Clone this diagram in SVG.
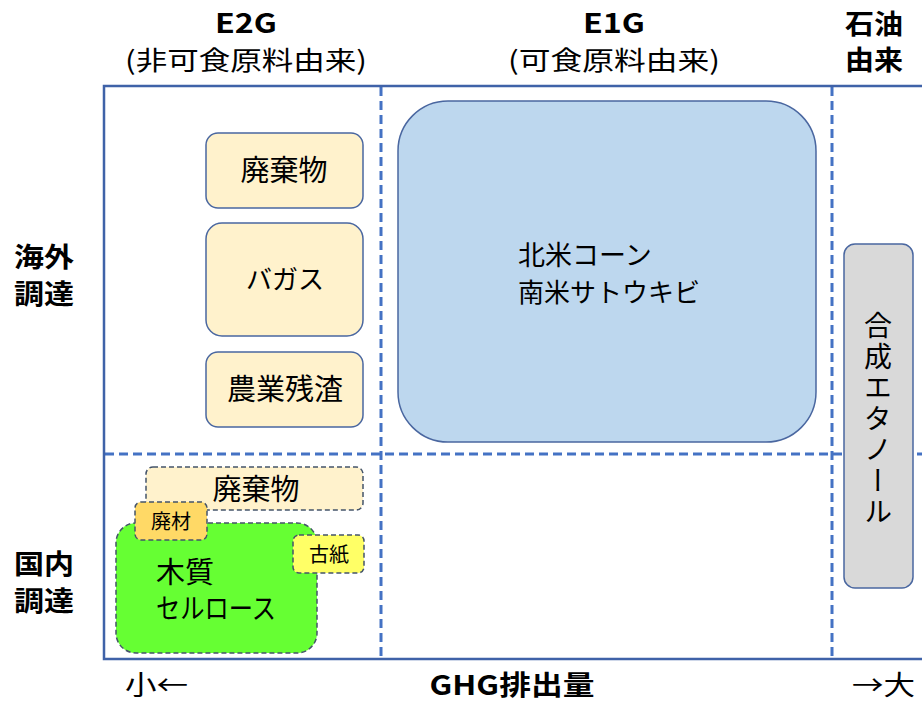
<svg xmlns="http://www.w3.org/2000/svg" width="922" height="705" viewBox="0 0 922 705">
<style>
text{font-family:"Noto Sans CJK JP","Noto Sans",sans-serif;fill:#000}
.b{font-size:27px;font-weight:bold;text-anchor:middle}
.p{font-size:26px;text-anchor:middle}
.k{font-size:29px;text-anchor:middle}
.frame{fill:none;stroke:#3F62A8;stroke-width:2.5}
.div{fill:none;stroke:#4472C4;stroke-width:3;stroke-dasharray:9,5}
.box{fill:#FFF2CC;stroke:#4A67A0;stroke-width:1.5}
.dbox{stroke:#44546A;stroke-width:1.5;stroke-dasharray:5,3}
</style>
<g id="connectors">
<line class="div" x1="381" y1="87" x2="381" y2="658"/>
<line class="div" x1="832" y1="87" x2="832" y2="658"/>
<line class="div" x1="105" y1="454" x2="922" y2="454"/>
<polyline class="frame" points="922,86 104,86 104,659 922,659"/>
</g>
<g id="headers">
<text class="b" x="246" y="33" textLength="62" lengthAdjust="spacingAndGlyphs">E2G</text>
<text class="p" x="246" y="70" textLength="242" lengthAdjust="spacingAndGlyphs">(非可食原料由来)</text>
<text class="b" x="614" y="33" textLength="62" lengthAdjust="spacingAndGlyphs">E1G</text>
<text class="p" x="614" y="70" textLength="212" lengthAdjust="spacingAndGlyphs">(可食原料由来)</text>
<text class="b" x="874" y="34" textLength="58" lengthAdjust="spacingAndGlyphs">石油</text>
<text class="b" x="874" y="70" textLength="58" lengthAdjust="spacingAndGlyphs">由来</text>
<text class="b" x="44" y="267" textLength="60" lengthAdjust="spacingAndGlyphs">海外</text>
<text class="b" x="44" y="304" textLength="60" lengthAdjust="spacingAndGlyphs">調達</text>
<text class="b" x="44" y="574" textLength="60" lengthAdjust="spacingAndGlyphs">国内</text>
<text class="b" x="44" y="611" textLength="60" lengthAdjust="spacingAndGlyphs">調達</text>
<text x="125" y="695" style="font-size:27px" textLength="63" lengthAdjust="spacingAndGlyphs">小←</text>
<text class="b" x="512" y="695" textLength="165" lengthAdjust="spacingAndGlyphs">GHG排出量</text>
<text x="852" y="695" style="font-size:27px" textLength="63" lengthAdjust="spacingAndGlyphs">→大</text>
</g>
<g id="n-haikibutsu1">
<rect class="box" x="206" y="133" width="157" height="75" rx="12"/>
<text class="k" x="284" y="181">廃棄物</text>
</g>
<g id="n-bagasse">
<rect class="box" x="206" y="223" width="157" height="113" rx="16"/>
<text x="285" y="289" style="font-size:26px;text-anchor:middle">バガス</text>
</g>
<g id="n-nogyo">
<rect class="box" x="206" y="352" width="157" height="75" rx="12"/>
<text class="k" x="285" y="400">農業残渣</text>
</g>
<g id="n-e1g">
<rect x="398" y="101" width="418" height="341" rx="50" fill="#BDD7EE" stroke="#4A67A0" stroke-width="1.5"/>
<text x="518" y="265" style="font-size:27px">北米コーン</text>
<text x="518" y="302" style="font-size:26px">南米サトウキビ</text>
</g>
<g id="n-gosei">
<rect x="844" y="244" width="69" height="344" rx="11" fill="#D9D9D9" stroke="#4A67A0" stroke-width="1.5"/>
<text x="878" y="420" style="font-size:28px;writing-mode:vertical-rl;text-anchor:middle;letter-spacing:3px">合成エタノール</text>
</g>
<g id="n-haikibutsu2">
<rect class="dbox" x="146" y="467" width="217" height="43" rx="7" fill="#FFF2CC"/>
<text class="k" x="256" y="500">廃棄物</text>
</g>
<g id="n-mokushitsu">
<rect class="dbox" x="116" y="523" width="201" height="130" rx="20" fill="#66FF33"/>
<text x="156" y="583" style="font-size:29px">木質</text>
<text x="156" y="619" style="font-size:28px" textLength="120" lengthAdjust="spacingAndGlyphs">セルロース</text>
</g>
<g id="n-haizai">
<rect class="dbox" x="135" y="502" width="72" height="38" rx="6" fill="#FFD966"/>
<text x="171" y="529" style="font-size:20px;text-anchor:middle">廃材</text>
</g>
<g id="n-koshi">
<rect class="dbox" x="293" y="535" width="71" height="38" rx="6" fill="#FFFF66"/>
<text x="329" y="562" style="font-size:20px;text-anchor:middle">古紙</text>
</g>
</svg>
